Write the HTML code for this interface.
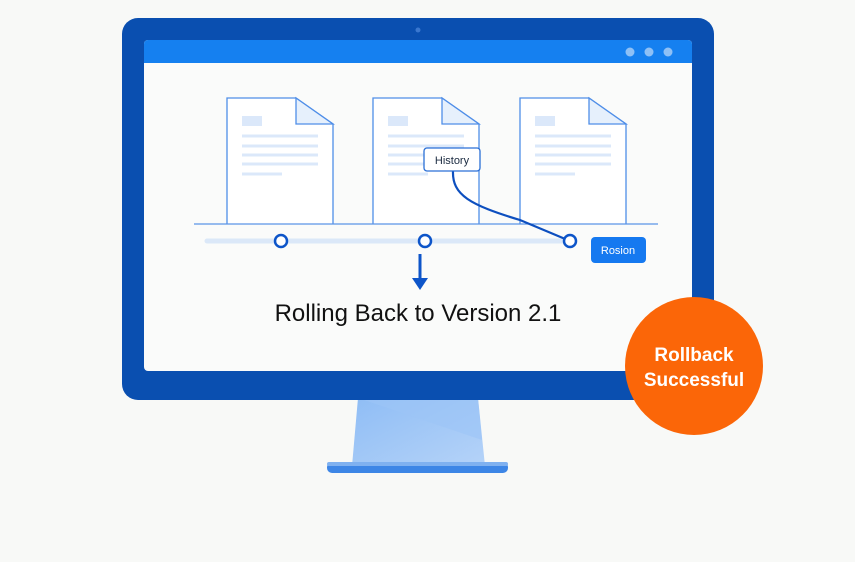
<!DOCTYPE html>
<html><head><style>
html,body{margin:0;padding:0;background:#f8f9f7;width:855px;height:562px;overflow:hidden}
text{font-family:"Liberation Sans",sans-serif}
</style></head><body>
<svg width="855" height="562" viewBox="0 0 855 562">
<defs>
<linearGradient id="st" x1="0" y1="0" x2="1" y2="1"><stop offset="0" stop-color="#8fbdf5"/><stop offset="1" stop-color="#b5d3f8"/></linearGradient>
</defs>
<polygon points="358,398 478,398 485,466 352,466" fill="url(#st)"/>
<polygon points="358,398 478,398 482,440" fill="#9cc5f6" opacity="0.6"/>
<rect x="327" y="462" width="181" height="11" rx="5" fill="#3d86e6"/>
<rect x="327" y="462" width="181" height="4" rx="2" fill="#7fb1f0"/>
<rect x="122" y="18" width="592" height="382" rx="16" fill="#0a4fb0"/>
<circle cx="418" cy="30" r="2.5" fill="#3a77cf"/>
<rect x="144" y="40" width="548" height="331" rx="4" fill="#fafbfa"/>
<path d="M144 44 a4 4 0 0 1 4 -4 h540 a4 4 0 0 1 4 4 v19 h-548z" fill="#1580f0"/>
<circle cx="630" cy="52" r="4.5" fill="#8ec0f6"/>
<circle cx="649" cy="52" r="4.5" fill="#8ec0f6"/>
<circle cx="668" cy="52" r="4.5" fill="#8ec0f6"/>
<g fill="#ffffff" stroke="#4f8ee8" stroke-width="1.3">
<path d="M227 224 V98 H296 L333 124 V224"/>
<path d="M373 224 V98 H442 L479 124 V224"/>
<path d="M520 224 V98 H589 L626 124 V224"/>
</g>
<g fill="#e6f0fc" stroke="#4f8ee8" stroke-width="1.3">
<path d="M296 98 V124 H333Z"/><path d="M442 98 V124 H479Z"/><path d="M589 98 V124 H626Z"/>
</g>
<g fill="#dbe8fa">
<rect x="242" y="116" width="20" height="10"/><rect x="388" y="116" width="20" height="10"/><rect x="535" y="116" width="20" height="10"/>
</g>
<g stroke="#dbe8fa" stroke-width="3">
<path d="M242 136h76M242 146h76M242 155h76M242 164h76M242 174h40"/>
<path d="M388 136h76M388 146h76M388 155h76M388 164h76M388 174h40"/>
<path d="M535 136h76M535 146h76M535 155h76M535 164h76M535 174h40"/>
</g>
<line x1="194" y1="224" x2="658" y2="224" stroke="#5b95e8" stroke-width="1.2"/>
<line x1="207" y1="241" x2="570" y2="241" stroke="#dbe8f8" stroke-width="5" stroke-linecap="round"/>
<path d="M453 171 C452 195 470 205 520 220 L570 241" fill="none" stroke="#0d4fbf" stroke-width="2.2"/>
<g fill="#fff" stroke="#0d55c9" stroke-width="2.5">
<circle cx="281" cy="241" r="6"/><circle cx="425" cy="241" r="6"/><circle cx="570" cy="241" r="6"/>
</g>
<rect x="424" y="148" width="56" height="23" rx="3" fill="#fff" stroke="#2a6fd6" stroke-width="1.3"/>
<text x="452" y="164" font-size="11" text-anchor="middle" fill="#1a2a40">History</text>
<rect x="591" y="237" width="55" height="26" rx="4" fill="#1579f0"/>
<text x="618" y="254" font-size="11" text-anchor="middle" fill="#fff">Rosion</text>
<line x1="420" y1="254" x2="420" y2="281" stroke="#0d55c9" stroke-width="3"/>
<path d="M412 278 L420 290 L428 278Z" fill="#0d55c9"/>
<text x="418" y="321" font-size="24" text-anchor="middle" fill="#111">Rolling Back to Version 2.1</text>
<circle cx="694" cy="366" r="69" fill="#fb6608"/>
<text x="694" y="361" font-size="19" font-weight="bold" text-anchor="middle" fill="#fff">Rollback</text>
<text x="694" y="386" font-size="19" font-weight="bold" text-anchor="middle" fill="#fff">Successful</text>
</svg>
</body></html>
